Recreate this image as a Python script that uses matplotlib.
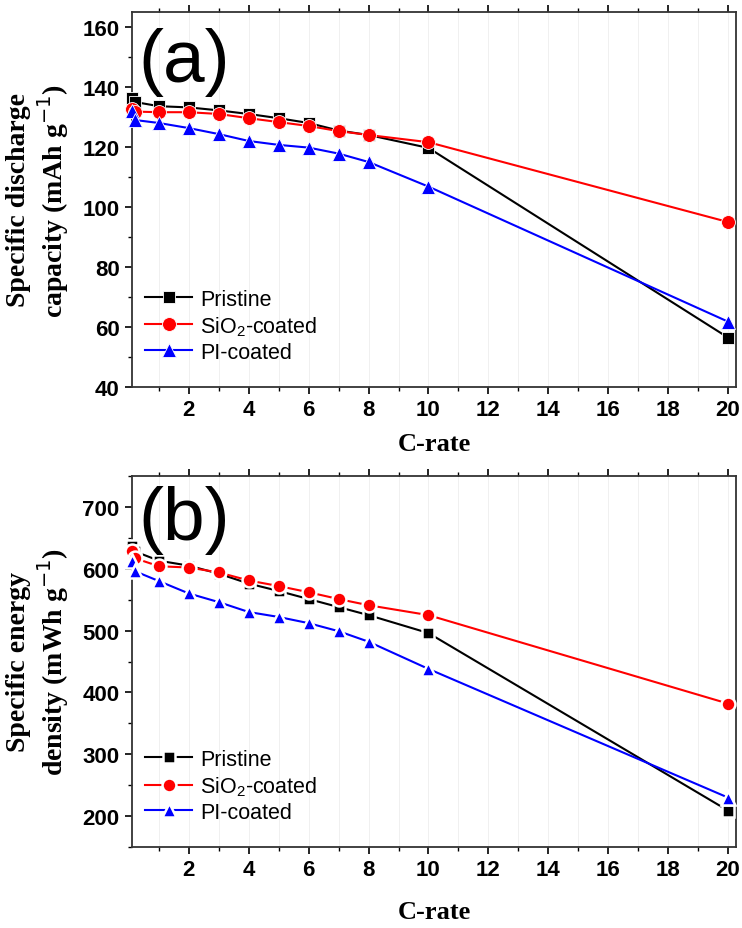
import matplotlib
matplotlib.use("Agg")
import matplotlib.pyplot as plt
from matplotlib.ticker import MultipleLocator

c_rate = [0.1, 0.2, 1, 2, 3, 4, 5, 6, 7, 8, 10, 20]

cap_pristine = [136.5, 135.0, 133.6, 133.2, 132.2, 131.0, 129.6, 128.0, 125.5, 124.0, 119.7, 56.5]
cap_sio2 = [132.7, 131.8, 131.6, 131.6, 131.0, 129.6, 128.3, 127.0, 125.3, 124.0, 121.6, 95.0]
cap_pi = [132.0, 129.0, 128.0, 126.3, 124.3, 122.0, 120.7, 119.8, 117.8, 115.0, 106.8, 61.8]

en_pristine = [636, 628, 613, 605, 592, 576, 564, 551, 538, 525, 496, 209]
en_sio2 = [628, 617, 604, 602, 594, 581, 572, 562, 551, 541, 525, 382]
en_pi = [612, 596, 580, 560, 546, 530, 522, 512, 499, 482, 438, 230]

labels = ["Pristine", "SiO$_\\mathregular{2}$-coated", "PI-coated"]
colors = ["black", "red", "blue"]
markers = ["s", "o", "^"]
msizes = [9, 10, 10.5]

x_ticks = [2, 4, 6, 8, 10, 12, 14, 16, 18, 20]

W, H = 742, 929
fig = plt.figure(figsize=(W / 100, H / 100), dpi=100)

def ax_rect(l, t, r, b):
    return [l / W, 1 - b / H, (r - l) / W, (b - t) / H]

ax1 = fig.add_axes(ax_rect(132, 13, 736, 388))
ax2 = fig.add_axes(ax_rect(132, 477, 736, 848))

tick_font = dict(family="Liberation Sans", weight="bold", size=16)

def style(ax, ylim, ymajor, yminor, xlabelpad):
    ax.set_xlim(0.1, 20.27)
    ax.set_ylim(*ylim)
    ax.xaxis.set_major_locator(MultipleLocator(2))
    ax.xaxis.set_minor_locator(MultipleLocator(1))
    ax.yaxis.set_major_locator(MultipleLocator(ymajor))
    ax.yaxis.set_minor_locator(MultipleLocator(yminor))
    ax.set_xticks(x_ticks)
    ax.set_xticklabels([str(v) for v in x_ticks])
    ax.tick_params(axis="both", which="major", direction="out", length=5, width=1.2,
                   top=True, right=False, labeltop=False, pad=4)
    ax.tick_params(axis="both", which="minor", direction="out", length=3, width=1.0,
                   top=True, right=False)
    for lab in ax.get_xticklabels() + ax.get_yticklabels():
        lab.set_fontfamily(tick_font["family"])
        lab.set_fontweight(tick_font["weight"])
        lab.set_fontsize(tick_font["size"])
    for sp in ax.spines.values():
        sp.set_linewidth(1.3)
        sp.set_color("#333333")
    ax.grid(True, which="both", axis="x", color="#eeeeee", linewidth=0.6)
    ax.set_axisbelow(True)
    ax.set_xlabel("C-rate", fontfamily="Liberation Serif", fontweight="bold", fontsize=19,
                  labelpad=xlabelpad)

# panel (a)
for ys, lab, c, m, ms in zip([cap_pristine, cap_sio2, cap_pi], labels, colors, markers, msizes):
    ax1.plot(c_rate, ys, color=c, marker=m, markersize=ms, linewidth=1.5, label=lab,
             markeredgecolor="white", markeredgewidth=0.6, clip_on=False, zorder=3)
style(ax1, (40, 165), 20, 10, 8)
ax1.set_ylabel("Specific discharge\ncapacity (mAh g$^{-1}$)", fontfamily="Liberation Serif",
               fontweight="bold", fontsize=20, linespacing=1.15, labelpad=8)
ax1.text(0.01, 0.96, "(a)", transform=ax1.transAxes, ha="left", va="top",
         fontfamily="Liberation Sans", fontsize=54)
ax1.legend(loc="lower left", bbox_to_anchor=(0.0, 0.03), frameon=False,
           prop=dict(family="Liberation Sans", size=15.5), handlelength=2.2,
           handletextpad=0.35, labelspacing=0.2, borderaxespad=0.2)

# panel (b)
for ys, lab, c, m, ms in zip([en_pristine, en_sio2, en_pi], labels, colors, markers, msizes):
    ax2.plot(c_rate, ys, color=c, marker=m, markersize=ms, linewidth=1.5, label=lab,
             markeredgecolor="white", markeredgewidth=1.8, clip_on=False, zorder=3)
style(ax2, (150, 750), 100, 50, 14)
ax2.set_ylabel("Specific energy\ndensity (mWh g$^{-1}$)", fontfamily="Liberation Serif",
               fontweight="bold", fontsize=20, linespacing=1.15, labelpad=8)
ax2.text(0.01, 0.975, "(b)", transform=ax2.transAxes, ha="left", va="top",
         fontfamily="Liberation Sans", fontsize=54)
ax2.legend(loc="lower left", bbox_to_anchor=(0.0, 0.03), frameon=False,
           prop=dict(family="Liberation Sans", size=15.5), handlelength=2.2,
           handletextpad=0.35, labelspacing=0.2, borderaxespad=0.2)

fig.savefig("out.png", dpi=100, facecolor="white")
